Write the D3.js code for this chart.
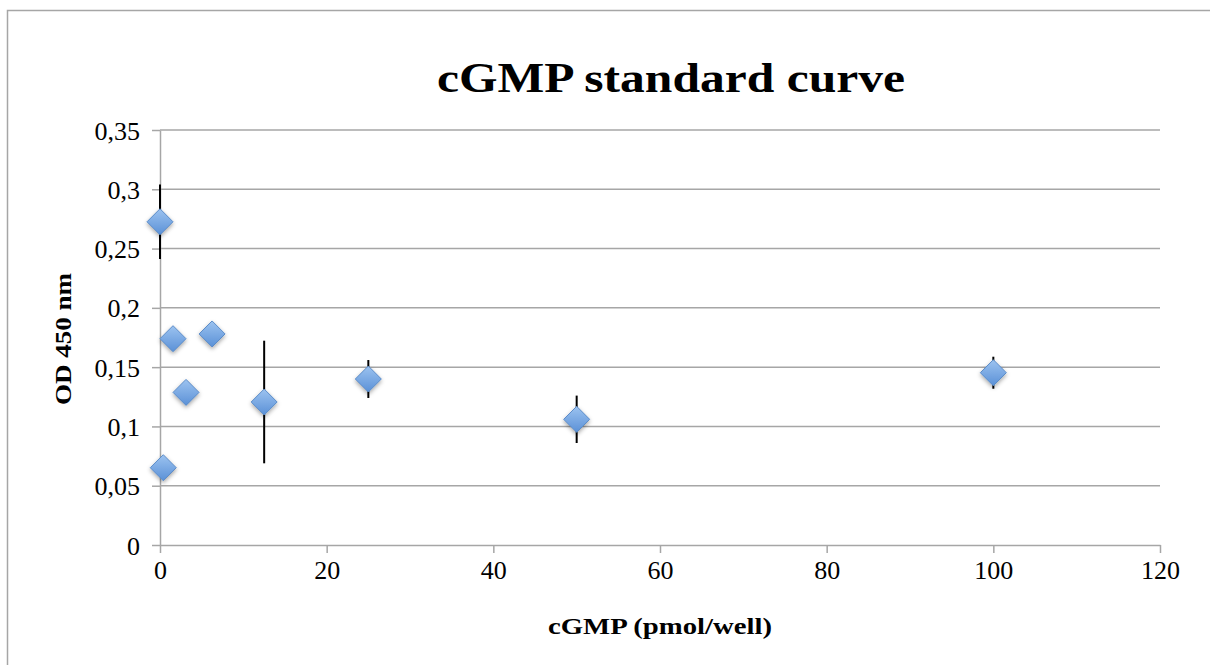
<!DOCTYPE html>
<html>
<head>
<meta charset="utf-8">
<script src="https://cdn.jsdelivr.net/npm/d3@7"></script>
<style>
  body { margin: 0; background: #fff; overflow: hidden; }
  svg { display: block; }
  text { font-family: 'Liberation Serif', 'DejaVu Serif', serif; fill: #000; }
</style>
</head>
<body>
<script>
const W = 1210;
const H = 665;

// data
const concentrations = [0, 0.39, 1.5625, 3.125, 6.25, 12.5, 25, 50, 100];
const odValues = [0.2726, 0.0652, 0.174, 0.1287, 0.178, 0.1206, 0.140, 0.106, 0.1453];
const odErrors = [0.0315, 0.006, 0.006, 0.006, 0.006, 0.0517, 0.016, 0.020, 0.0135];
const xTicks = [0, 20, 40, 60, 80, 100, 120];
const yTicks = [0, 0.05, 0.1, 0.15, 0.2, 0.25, 0.3, 0.35];

const margin = { left: 160, right: 50, top: 130, bottom: 120 };

const points = concentrations.map((c, i) => ({ x: c, y: odValues[i], e: odErrors[i] }));

const svg = d3.select('body').append('svg')
  .attr('width', W)
  .attr('height', H);

const defs = svg.append('defs');
const grad = defs.append('linearGradient')
  .attr('id', 'markerFill')
  .attr('x1', 0).attr('y1', 0).attr('x2', 0).attr('y2', 1);
grad.append('stop').attr('offset', '0%').attr('stop-color', '#9cc3f0');
grad.append('stop').attr('offset', '100%').attr('stop-color', '#5b91d7');

const shadow = defs.append('filter')
  .attr('id', 'shadow')
  .attr('x', '-50%').attr('y', '-50%').attr('width', '200%').attr('height', '200%');
shadow.append('feDropShadow')
  .attr('dx', 0).attr('dy', 2)
  .attr('stdDeviation', 2)
  .attr('flood-color', '#000')
  .attr('flood-opacity', 0.35);

// outer chart frame (right and bottom edges run off the picture)
svg.append('rect')
  .attr('x', 7.5).attr('y', 10.5)
  .attr('width', W + 20).attr('height', H + 20)
  .attr('fill', 'none')
  .attr('stroke', '#a6a6a6')
  .attr('stroke-width', 1.5);

const x = d3.scaleLinear().domain([0, 120]).range([margin.left, W - margin.right]);
const y = d3.scaleLinear().domain([0, 0.35]).range([H - margin.bottom, margin.top]);

const fmt = (d) => d3.format('.2~f')(d).replace('.', ',');

// horizontal gridlines
svg.append('g')
  .selectAll('line')
  .data(yTicks.filter((d) => d > 0))
  .enter()
  .append('line')
  .attr('x1', x(0))
  .attr('x2', x(120))
  .attr('y1', (d) => y(d))
  .attr('y2', (d) => y(d))
  .attr('stroke', '#a6a6a6')
  .attr('stroke-width', 1.5);

const yAxis = svg.append('g')
  .attr('transform', `translate(${x(0)},0)`)
  .call(d3.axisLeft(y).tickValues(yTicks).tickFormat(fmt).tickSize(8).tickSizeOuter(0).tickPadding(12));

const xAxis = svg.append('g')
  .attr('transform', `translate(0,${y(0)})`)
  .call(d3.axisBottom(x).tickValues(xTicks).tickFormat(d3.format('d')).tickSize(8).tickSizeOuter(0).tickPadding(8));

[yAxis, xAxis].forEach((ax) => {
  ax.select('.domain').attr('stroke', '#a6a6a6').attr('stroke-width', 1.5);
  ax.selectAll('.tick line').attr('stroke', '#a6a6a6').attr('stroke-width', 1.5);
  ax.selectAll('.tick text')
    .attr('font-family', "'Liberation Serif', serif")
    .attr('font-size', 26)
    .attr('fill', '#000');
});
yAxis.selectAll('.tick text').attr('dy', '0.35em');

// error bars
svg.append('g')
  .selectAll('line')
  .data(points)
  .enter()
  .append('line')
  .attr('x1', (d) => x(d.x))
  .attr('x2', (d) => x(d.x))
  .attr('y1', (d) => y(d.y + d.e))
  .attr('y2', (d) => y(d.y - d.e))
  .attr('stroke', '#000')
  .attr('stroke-width', 2);

// diamond markers
const r = 13;
svg.append('g')
  .selectAll('path')
  .data(points)
  .enter()
  .append('path')
  .attr('transform', (d) => `translate(${x(d.x)},${y(d.y)})`)
  .attr('d', `M0,${-r}L${r},0L0,${r}L${-r},0Z`)
  .attr('fill', 'url(#markerFill)')
  .attr('stroke', '#5a8bc8')
  .attr('stroke-width', 1)
  .attr('filter', 'url(#shadow)');

// title
svg.append('text')
  .text('cGMP standard curve')
  .attr('x', 671)
  .attr('y', 92)
  .attr('text-anchor', 'middle')
  .attr('font-size', 42)
  .attr('font-weight', 'bold')
  .attr('textLength', 468)
  .attr('lengthAdjust', 'spacingAndGlyphs');

// axis titles
svg.append('text')
  .text('cGMP (pmol/well)')
  .attr('x', 660)
  .attr('y', 634)
  .attr('text-anchor', 'middle')
  .attr('font-size', 24)
  .attr('font-weight', 'bold')
  .attr('textLength', 224)
  .attr('lengthAdjust', 'spacingAndGlyphs');

svg.append('text')
  .text('OD 450 nm')
  .attr('transform', 'translate(71,339)rotate(-90)')
  .attr('text-anchor', 'middle')
  .attr('font-size', 24)
  .attr('font-weight', 'bold')
  .attr('textLength', 132)
  .attr('lengthAdjust', 'spacingAndGlyphs');
</script>
</body>
</html>
